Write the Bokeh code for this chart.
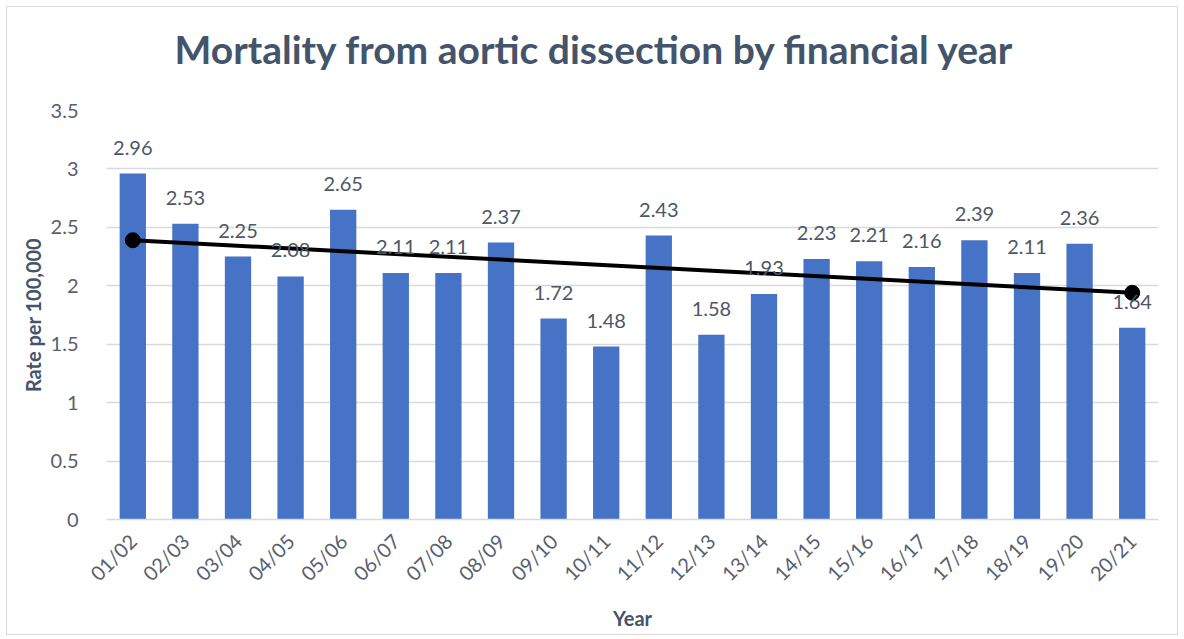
from bokeh.plotting import figure
from bokeh.models import ColumnDataSource, Range1d, FactorRange, LabelSet, Title
from bokeh.core.properties import value
from bokeh.embed import file_html
from bokeh.resources import INLINE
import math

years = ["01/02", "02/03", "03/04", "04/05", "05/06", "06/07", "07/08", "08/09", "09/10", "10/11",
         "11/12", "12/13", "13/14", "14/15", "15/16", "16/17", "17/18", "18/19", "19/20", "20/21"]
rates = [2.96, 2.53, 2.25, 2.08, 2.65, 2.11, 2.11, 2.37, 1.72, 1.48,
         2.43, 1.58, 1.93, 2.23, 2.21, 2.16, 2.39, 2.11, 2.36, 1.64]
trend_years = ["01/02", "20/21"]
trend_values = [2.39, 1.94]
title_text = "Mortality from aortic dissection by financial year"

FONT = "Lato"
TXT = "#58606E"
DARK = "#44546A"

src = ColumnDataSource(dict(x=years, top=rates, lab=[f"{v:.2f}" for v in rates]))

p = figure(width=1172, height=629, x_range=FactorRange(*years, range_padding=0),
           y_range=Range1d(0, 3.5), output_backend="svg", toolbar_location=None,
           min_border_left=99, min_border_right=21, min_border_top=103, min_border_bottom=117)

p.vbar(x="x", top="top", width=0.5, source=src, fill_color="#4673C6", line_color=None)

labels = LabelSet(x="x", y="top", text="lab", source=src, text_align="center",
                  text_baseline="bottom", y_offset=19, text_font_size="20px",
                  text_color="#4D5766", text_font=value(FONT))
p.add_layout(labels)

p.line(trend_years, trend_values, line_color="black", line_width=4)
p.scatter(trend_years, trend_values, size=15, fill_color="black", line_color="black")

# spacer between frame and title, then the title itself
p.add_layout(Title(text=" ", text_font_size="1px", standoff=36), "above")
p.add_layout(Title(text=title_text, align="left", text_font_size="39px", text_font_style="bold",
                   text_color=DARK, text_font=FONT, standoff=0, offset=68), "above")

p.outline_line_color = None
p.xgrid.grid_line_color = None
p.ygrid.grid_line_color = "#D9D9D9"
p.ygrid.grid_line_width = 1.5
p.yaxis.ticker = [0, 0.5, 1, 1.5, 2, 2.5, 3, 3.5]
p.yaxis.major_label_overrides = {0: "0", 0.5: "0.5", 1: "1", 1.5: "1.5", 2: "2", 2.5: "2.5", 3: "3", 3.5: "3.5"}
for ax in (p.xaxis[0], p.yaxis[0]):
    ax.major_tick_line_color = None
    ax.minor_tick_line_color = None
    ax.major_label_text_font = FONT
    ax.major_label_text_font_size = "20px"
    ax.major_label_text_color = TXT
    ax.axis_label_text_font = FONT
    ax.axis_label_text_font_style = "bold"
    ax.axis_label_text_font_size = "20px"
    ax.axis_label_text_color = DARK
p.yaxis.axis_line_color = None
p.yaxis.major_label_standoff = 22
p.yaxis.axis_label = "Rate per 100,000"
p.yaxis.axis_label_standoff = 3
p.xaxis.axis_line_color = "#D9D9D9"
p.xaxis.axis_line_width = 1.5
p.xaxis.major_label_orientation = math.pi / 4
p.xaxis.major_label_standoff = 12
p.xaxis.axis_label = "Year"
p.xaxis.axis_label_standoff = 9
p.styles = {"border": "1px solid #D9D9D9", "margin-left": "6px", "margin-top": "6px"}

open("out.html", "w").write(file_html(p, INLINE))
